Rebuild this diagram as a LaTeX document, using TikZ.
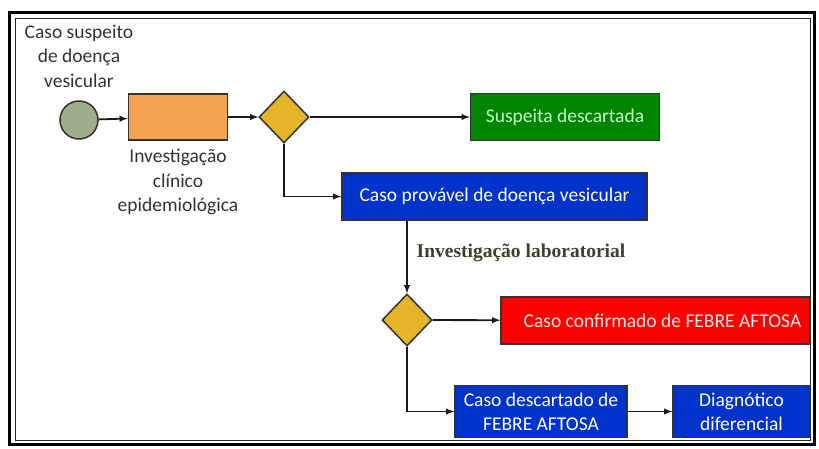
\documentclass[tikz,border=0pt]{standalone}
\usepackage{fontspec}
\setmainfont{Carlito}
\newfontfamily\labfont{Liberation Serif}
\usetikzlibrary{positioning, shapes.geometric}
\definecolor{boxblue}{rgb}{0.0, 0.2, 0.8}
\definecolor{boxgreen}{rgb}{0.0, 0.52, 0.0}
\definecolor{boxorange}{rgb}{0.96, 0.64, 0.32}
\definecolor{gold}{rgb}{0.9, 0.71, 0.16}
\definecolor{sage}{rgb}{0.62, 0.68, 0.55}
\definecolor{olivegray}{rgb}{0.25, 0.25, 0.18}
\tikzset{
    block/.style={
        draw = black!80, line width = 1.5pt,
        align = center, inner sep = 0pt,
        font = \fontsize{19.5}{24}\selectfont
    },
    gate/.style={
        diamond, draw = black!80, line width = 1.5pt, fill = gold,
        minimum width = 50pt, minimum height = 52pt, inner sep = 0pt
    },
    caption/.style = {align = center, font = \fontsize{19.5}{24.5}\selectfont, text = black!80},
    line/.style = {-latex, line width = 1.8pt, black!90}
}
\begin{document}
\begin{tikzpicture}[x=1pt, y=-1pt]

    % Page and frame
    \useasboundingbox (0,0) rectangle (819,448);
    \fill[white] (0,0) rectangle (819,448);
    \draw[line width=3.5pt] (9.5,12.5) rectangle (814.5,444.5);
    \draw[line width=1pt, black!85] (15,18) rectangle (810.5,440.5);

    % Start
    \node[circle, draw = black!80, line width = 1.5pt, fill = sage, minimum size = 38pt, inner sep = 0pt] (start) at (79,120) {};
    \node[caption] (startlbl) at (79,56) {Caso suspeito\\de doença\\vesicular};

    % Clinical investigation
    \node[block, fill = boxorange, minimum width = 99pt, minimum height = 46pt] (clin) at (178,117) {};
    \node[caption] (clinlbl) at (178,182) {Investigação\\clínico\\epidemiológica};

    % First decision
    \node[gate] (dec1) at (284,117) {};

    % Outcomes
    \node[block, fill = boxgreen, text = green!25!white, minimum width = 189pt, minimum height = 47pt] (discard) at (565,117) {Suspeita descartada};
    \node[block, fill = boxblue, text = white, minimum width = 305pt, minimum height = 47pt] (probable) at (494.5,196.5) {Caso provável de doença vesicular};

    % Laboratory label
    \node[font = \labfont\bfseries\fontsize{19.5}{22}\selectfont, text = olivegray] (lablbl) at (521,253) {Investigação laboratorial};

    % Second decision
    \node[gate] (dec2) at (407,320) {};
    \node[block, fill = red, text = white!90!red, minimum width = 309pt, minimum height = 47pt] (confirmed) at (655.5,320.5) {\hspace{14pt}Caso confirmado de FEBRE AFTOSA};
    \node[block, fill = boxblue, text = white, minimum width = 172pt, minimum height = 52pt] (ruledout) at (541,411.5) {Caso descartado de\\FEBRE AFTOSA};
    \node[block, fill = boxblue, text = white, minimum width = 137pt, minimum height = 52pt] (diff) at (741.5,411.5) {Diagnótico\\diferencial};

    % Connectors
    \draw[line] (start) -- (clin);
    \draw[line] (clin) -- (dec1);
    \draw[line] (dec1) -- (discard);
    \draw[line] (dec1.south) |- (probable);
    \draw[line] (probable.south -| dec2) -- (dec2);
    \draw[line] (dec2) -- (confirmed);
    \draw[line] (dec2.south) |- (ruledout);
    \draw[line] (ruledout) -- (diff);

\end{tikzpicture}
\end{document}
